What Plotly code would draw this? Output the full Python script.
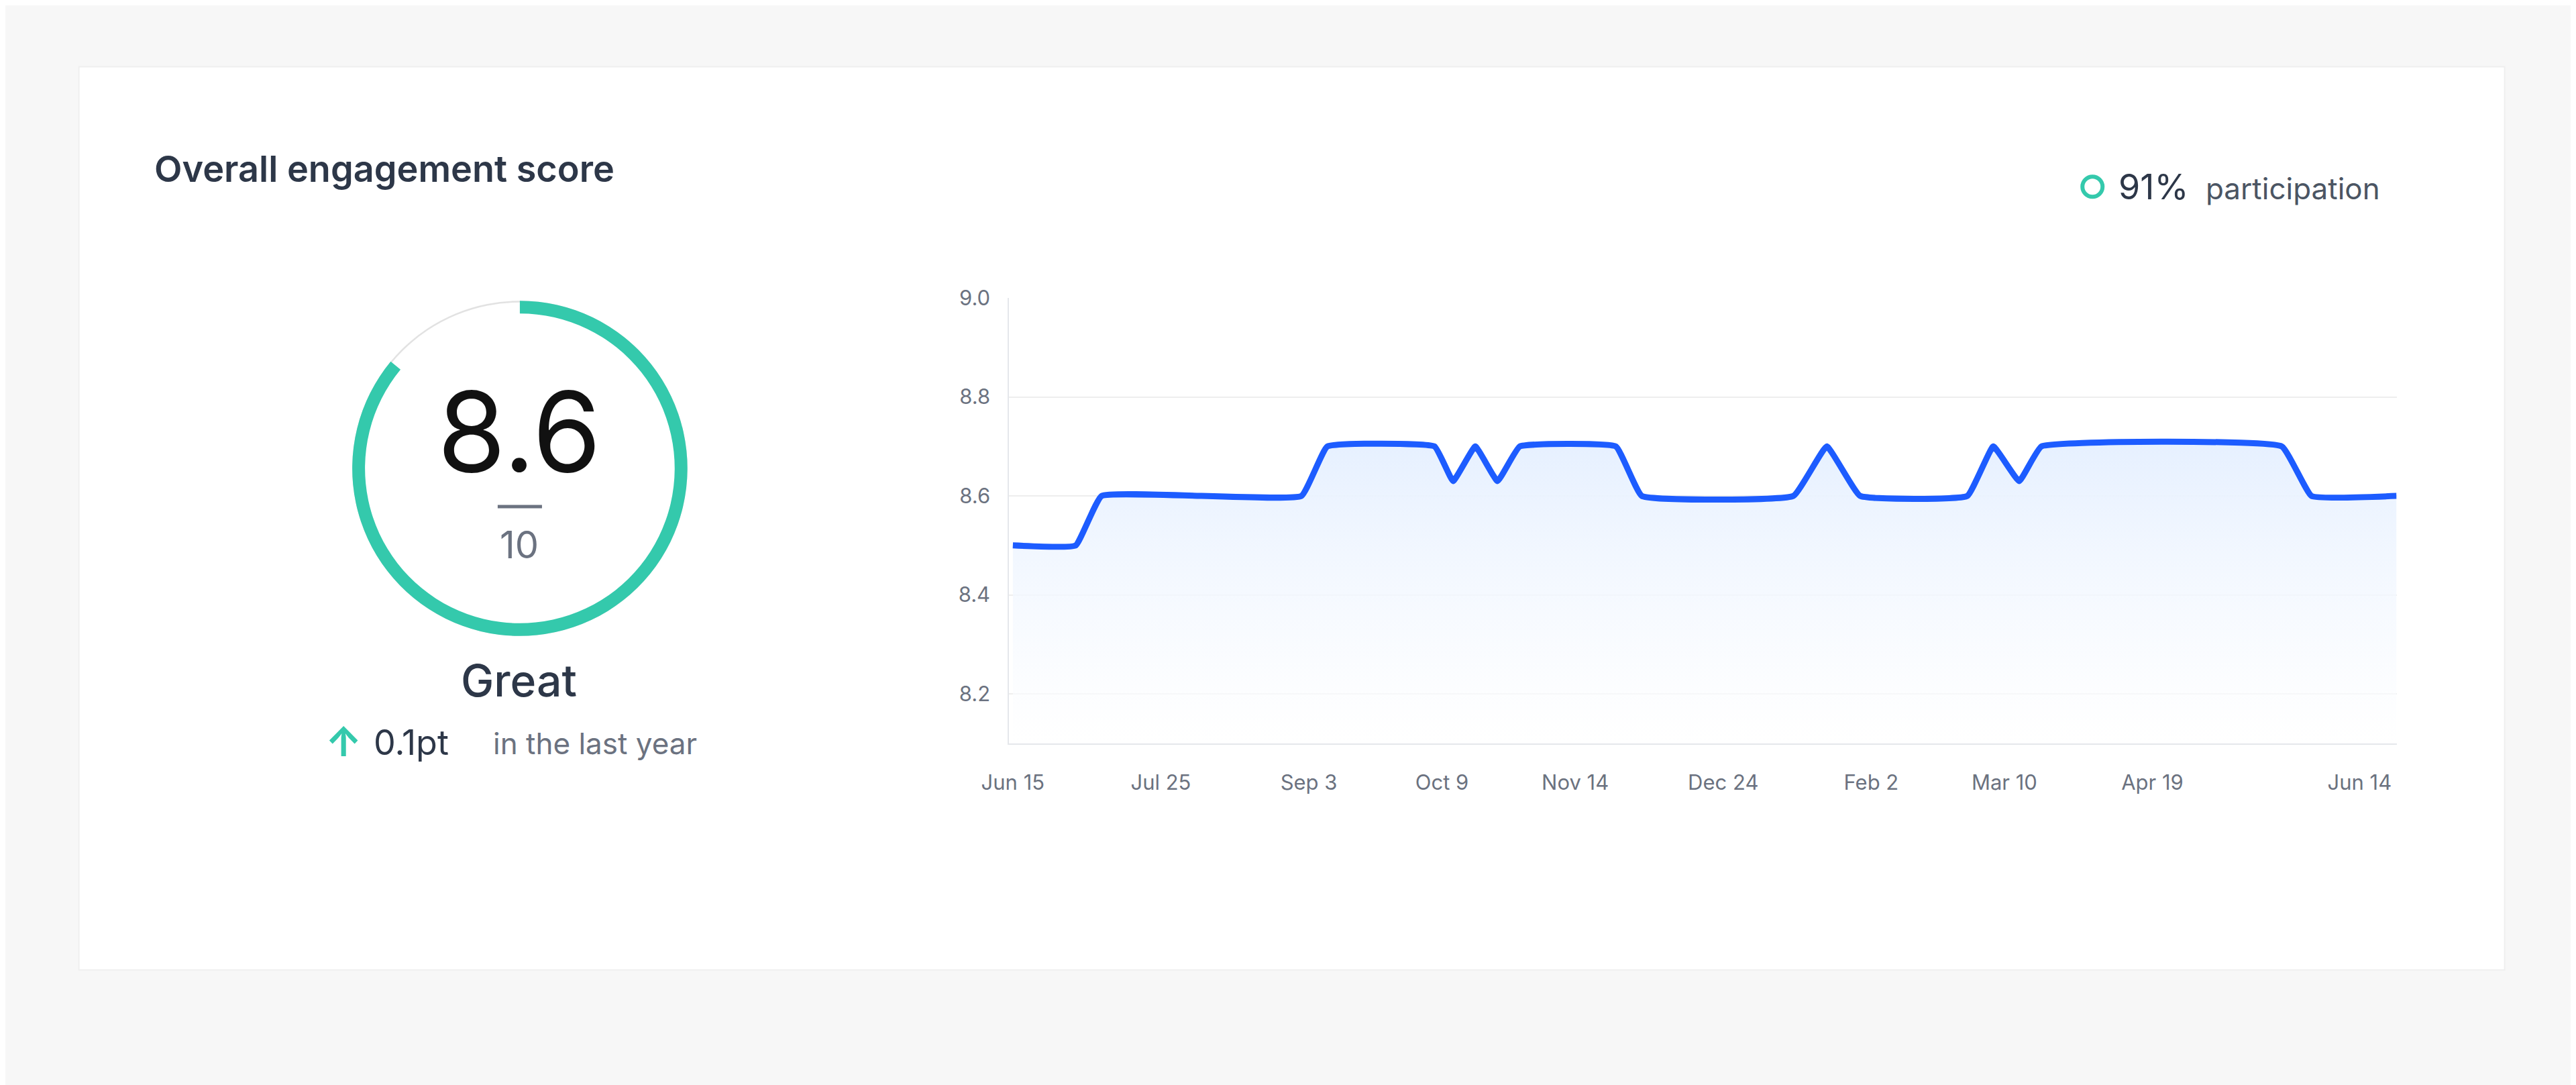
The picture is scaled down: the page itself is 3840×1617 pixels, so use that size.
import plotly.graph_objects as go

dates = ["2022-06-15","2022-07-02","2022-07-09","2022-09-01","2022-09-08","2022-10-07","2022-10-12",
         "2022-10-18","2022-10-24","2022-10-30","2022-11-25","2022-12-02","2023-01-12","2023-01-21",
         "2023-01-30","2023-02-28","2023-03-07","2023-03-14","2023-03-20","2023-05-24","2023-06-01","2023-06-24"]
scores = [8.5,8.5,8.6,8.6,8.7,8.7,8.63,8.7,8.63,8.7,8.7,8.6,8.6,8.7,8.6,8.6,8.7,8.63,8.7,8.7,8.6,8.6]
floor = [8.1]*len(dates)
tick_dates = ["2022-06-15","2022-07-25","2022-09-03","2022-10-09","2022-11-14","2022-12-24",
              "2023-02-02","2023-03-10","2023-04-19","2023-06-14"]
tick_labels = ["Jun 15","Jul 25","Sep 3","Oct 9","Nov 14","Dec 24","Feb 2","Mar 10","Apr 19","Jun 14"]
y_ticks = [8.2, 8.4, 8.6, 8.8, 9.0]
score = 8.6
max_score = 10

W, H = 3840, 1617

def fx(x):
    return ((x - 50.5) / 0.9885) / W

def fy(y):
    return 1 - ((y - 25.5) / 0.989) / H

fig = go.Figure()

fig.add_trace(go.Scatter(x=dates, y=floor, mode="lines", line=dict(width=0), hoverinfo="skip", showlegend=False))
fig.add_trace(go.Scatter(x=dates, y=scores, mode="lines", line=dict(color="#1d5cff", width=9, shape="spline", smoothing=0.3),
                         fill="tonexty",
                         fillgradient=dict(type="vertical", colorscale=[[0, "rgba(255,255,255,0.6)"], [1, "rgba(230,240,255,1)"]]),
                         showlegend=False))

# gauge
cx, cy, r = 775, 697, 250
dom_x = [fx(cx - r), fx(cx + r)]
dom_y = [fy(cy + r), fy(cy - r)]
fig.add_trace(go.Pie(values=[1], hole=0.99, domain=dict(x=dom_x, y=dom_y), marker=dict(colors=["#e2e2e2"]),
                     textinfo="none", sort=False, showlegend=False, hoverinfo="skip"))
fig.add_trace(go.Pie(values=[score, max_score - score], hole=0.924, domain=dict(x=dom_x, y=dom_y), rotation=0,
                     direction="clockwise", sort=False, marker=dict(colors=["#34c9ac", "rgba(0,0,0,0)"]),
                     textinfo="none", showlegend=False, hoverinfo="skip"))

fig.update_layout(
    width=W, height=H, margin=dict(l=0, r=0, t=0, b=0),
    paper_bgcolor="#f7f7f7", plot_bgcolor="rgba(0,0,0,0)",
    font=dict(family="Inter", color="#2d3748"),
    xaxis=dict(domain=[fx(1504), fx(3571)], type="date", range=["2022-06-14", "2023-06-24"],
               tickvals=tick_dates, ticktext=tick_labels, showgrid=False, showline=True, linecolor="#e5e7eb",
               linewidth=2, tickfont=dict(size=31, color="#6b7280"), ticks="", ticklabelstandoff=30),
    yaxis=dict(domain=[fy(1107), fy(443)], range=[8.1, 9.0], tickvals=y_ticks, tickformat=".1f",
               gridcolor="#eeeeee", gridwidth=2, showline=True, linecolor="#e5e7eb", linewidth=2, zeroline=False,
               tickfont=dict(size=31, color="#6b7280"), ticks="", ticklabelstandoff=20),
    shapes=[
        dict(type="rect", xref="paper", yref="paper", x0=fx(118), x1=fx(3732), y0=fy(1445), y1=fy(98),
             fillcolor="white", line=dict(color="#efefef", width=2), layer="below"),
        dict(type="line", xref="paper", yref="paper", x0=fx(742), x1=fx(808), y0=fy(754), y1=fy(754),
             line=dict(color="#6b7280", width=5)),
        dict(type="circle", xref="paper", yref="paper", x0=fx(3103), x1=fx(3133), y0=fy(292), y1=fy(262),
             line=dict(color="#34c9ac", width=6)),
    ],
)

def txt(x, y, s, size, color="#2d3748", anchor="left", weight=400):
    fig.add_annotation(x=fx(x), y=fy(y), xref="paper", yref="paper", text=s, showarrow=False,
                       xanchor=anchor, yanchor="middle",
                       font=dict(size=size, color=color, family="Inter", weight=weight))

txt(228, 250, "Overall engagement score", 54, "#2d3748", weight=600)
txt(774, 642, "8.6", 165, "#111111", "center")
txt(774, 811, "10", 56, "#6b7280", "center")
txt(774, 1013, "Great", 66, "#2d3748", "center", weight=500)
txt(512, 1104, "<b>↑</b>", 60, "#34c9ac", "center")
txt(555, 1106, "0.1pt", 52, "#2d3748")
txt(733, 1107, "in the last year", 44, "#6b7280")
txt(3155, 277, "91%", 52, "#2d3748")
txt(3285, 280, "participation", 44, "#4b5563")

fig.write_html("out.html")
